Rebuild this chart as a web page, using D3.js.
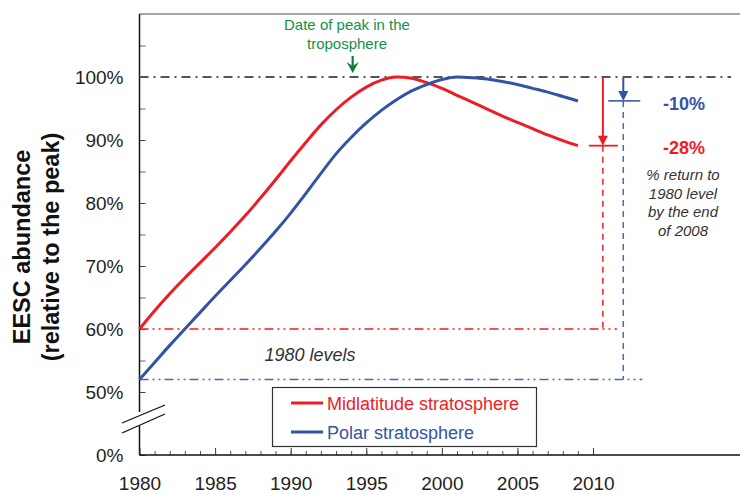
<!DOCTYPE html>
<html><head><meta charset="utf-8">
<script src="https://cdn.jsdelivr.net/npm/d3@7"></script>
<style>body{margin:0;background:#fff}svg{display:block}text{font-family:"Liberation Sans",Arial,sans-serif}</style>
</head><body><svg id="c" width="740" height="495"></svg>
<script>
const years = [1980,1981,1982,1983,1984,1985,1986,1987,1988,1989,1990,1991,1992,1993,1994,1995,1996,1997,1998,1999,2000,2001,2002,2003,2004,2005,2006,2007,2008,2009];
const midlatitude = [60.0,62.9,65.6,68.1,70.5,72.9,75.4,78.0,80.8,83.7,86.7,89.6,92.4,94.8,96.8,98.4,99.5,100.0,99.8,99.1,98.2,97.1,96.0,94.9,93.8,92.8,91.8,90.8,89.9,89.1];
const polar = [52.0,54.7,57.4,60.0,62.6,65.2,67.7,70.2,72.8,75.5,78.4,81.5,84.7,87.8,90.4,92.7,94.7,96.4,97.8,98.8,99.6,100.0,99.9,99.7,99.3,98.8,98.2,97.6,96.9,96.2];
const xTickYears = [1980,1985,1990,1995,2000,2005,2010];
const yTickValues = [40,50,60,70,80,90,100];
const yTickLabels = ["0%","50%","60%","70%","80%","90%","100%"];
const seriesNames = ["Midlatitude stratosphere","Polar stratosphere"];
const seriesColors = ["#ee1d25","#3453a5"];
const changeLabels = ["-28%","-10%"];
const changeYears = [2010.65, 2012.0];
const tropoPeakYear = 1994.1;

const svg = d3.select("#c");
const x = d3.scaleLinear().domain([1980, 2019.72]).range([139.5, 740]);
const y = d3.scaleLinear().domain([40, 110]).range([455, 14]);

// top frame line
svg.append("line").attr("x1", x(1980)).attr("x2", 740).attr("y1", y(110)).attr("y2", y(110))
  .attr("stroke", "#a6a6a6").attr("stroke-width", 2);

// y axis ticks
const yAxis = d3.axisLeft(y).tickValues(yTickValues).tickSizeInner(-6).tickSizeOuter(0).tickPadding(16)
  .tickFormat((d,i) => yTickLabels[i]);
const gy = svg.append("g").attr("transform", `translate(${x(1980)},0)`).call(yAxis);
gy.select(".domain").remove();
gy.selectAll(".tick line").attr("stroke", "#444");
gy.selectAll(".tick text").attr("font-size", 19).attr("fill", "#231f20").attr("dy", "0.36em");
const yMinor = d3.axisLeft(y).tickValues(d3.range(55, 110, 10)).tickSizeInner(-6).tickSizeOuter(0).tickFormat("");
const gym = svg.append("g").attr("transform", `translate(${x(1980)},0)`).call(yMinor);
gym.select(".domain").remove();
gym.selectAll(".tick line").attr("stroke", "#666");

// left axis line with break
svg.append("line").attr("x1", x(1980)).attr("x2", x(1980)).attr("y1", y(110)).attr("y2", 412).attr("stroke", "#111").attr("stroke-width", 1.5);
svg.append("line").attr("x1", x(1980)).attr("x2", x(1980)).attr("y1", 426).attr("y2", 455).attr("stroke", "#111").attr("stroke-width", 1.5);
[[122,423,165,405],[122,433,165,414]].forEach(b => {
  svg.append("line").attr("x1", b[0]).attr("y1", b[1]).attr("x2", b[2]).attr("y2", b[3]).attr("stroke", "#111").attr("stroke-width", 1.3);
});

// x axis
const xAxis = d3.axisBottom(x).tickValues(xTickYears).tickSizeInner(-7).tickSizeOuter(0).tickPadding(22).tickFormat(d3.format("d"));
const gx = svg.append("g").attr("transform", `translate(0,${y(40)})`).call(xAxis);
gx.select(".domain").remove();
gx.selectAll(".tick line").attr("stroke", "#333");
gx.selectAll(".tick text").attr("font-size", 19).attr("fill", "#231f20");
const xMinor = d3.axisBottom(x).tickValues(d3.range(1981, 2010, 1)).tickSizeInner(-4).tickSizeOuter(0).tickFormat("");
const gxm = svg.append("g").attr("transform", `translate(0,${y(40)})`).call(xMinor);
gxm.select(".domain").remove();
gxm.selectAll(".tick line").attr("stroke", "#555");
svg.append("line").attr("x1", x(1980)).attr("x2", 740).attr("y1", y(40)).attr("y2", y(40)).attr("stroke", "#111").attr("stroke-width", 1.5);

// reference lines
svg.append("line").attr("x1", x(1980)).attr("x2", 731).attr("y1", y(100)).attr("y2", y(100))
  .attr("stroke", "#555").attr("stroke-width", 2).attr("stroke-dasharray", "9,5,2,5");
const lastM = midlatitude[midlatitude.length-1], lastP = polar[polar.length-1];
const xr = x(changeYears[0]), xb = x(changeYears[1]);
svg.append("line").attr("x1", x(1980)).attr("x2", xr + 14).attr("y1", y(midlatitude[0])).attr("y2", y(midlatitude[0]))
  .attr("stroke", seriesColors[0]).attr("stroke-width", 1.5).attr("stroke-dasharray", "9,4,2,4,2,4");
svg.append("line").attr("x1", x(1980)).attr("x2", xb + 19).attr("y1", y(polar[0])).attr("y2", y(polar[0]))
  .attr("stroke", "#4a68b0").attr("stroke-width", 1.5).attr("stroke-dasharray", "9,4,2,4,2,4");
// vertical dashed
svg.append("line").attr("x1", xr).attr("x2", xr).attr("y1", y(lastM)).attr("y2", y(midlatitude[0]))
  .attr("stroke", seriesColors[0]).attr("stroke-width", 1.5).attr("stroke-dasharray", "6,5");
svg.append("line").attr("x1", xb).attr("x2", xb).attr("y1", y(lastP)).attr("y2", y(polar[0]))
  .attr("stroke", "#4a68b0").attr("stroke-width", 1.5).attr("stroke-dasharray", "6,5");
// arrows
function arrow(xx, y0, y1, col, w) {
  svg.append("line").attr("x1", xx).attr("x2", xx).attr("y1", y0).attr("y2", y1 - 8).attr("stroke", col).attr("stroke-width", w);
  svg.append("path").attr("d", `M${xx-5},${y1-10}L${xx+5},${y1-10}L${xx},${y1}Z`).attr("fill", col);
}
arrow(xr, y(100)+1, y(lastM), seriesColors[0], 2);
arrow(xb, y(100)+1, y(lastP), seriesColors[1], 2);
svg.append("line").attr("x1", xr-14).attr("x2", xr+15).attr("y1", y(lastM)).attr("y2", y(lastM)).attr("stroke", seriesColors[0]).attr("stroke-width", 1.8);
svg.append("line").attr("x1", xb-15).attr("x2", xb+17).attr("y1", y(lastP)).attr("y2", y(lastP)).attr("stroke", "#4a68b0").attr("stroke-width", 1.8);

// curves
const line = d3.line().x((d,i) => x(years[i])).y(d => y(d)).curve(d3.curveMonotoneX);
[midlatitude, polar].forEach((s, k) => {
  svg.append("path").attr("d", line(s)).attr("fill", "none").attr("stroke", seriesColors[k]).attr("stroke-width", 3);
});

// troposphere peak annotation
const green = "#14914a";
const tx = x(tropoPeakYear);
svg.append("text").attr("x", 347).attr("y", 30).attr("text-anchor", "middle").attr("font-size", 15).attr("fill", green).text("Date of peak in the");
svg.append("text").attr("x", 347).attr("y", 49).attr("text-anchor", "middle").attr("font-size", 15).attr("fill", green).text("troposphere");
svg.append("line").attr("x1", tx).attr("x2", tx).attr("y1", 56).attr("y2", 67).attr("stroke", "#0e7d3e").attr("stroke-width", 2.2);
svg.append("path").attr("d", `M${tx-6},${62}L${tx},${66}L${tx+6},${62}L${tx},${73}Z`).attr("fill", "#0e7d3e");

// change labels
svg.append("text").attr("x", 684).attr("y", 110).attr("text-anchor", "middle").attr("font-size", 18).attr("font-weight", "bold").attr("fill", seriesColors[1]).text(changeLabels[1]);
svg.append("text").attr("x", 684).attr("y", 154).attr("text-anchor", "middle").attr("font-size", 18).attr("font-weight", "bold").attr("fill", seriesColors[0]).text(changeLabels[0]);
["% return to","1980 level","by the end","of 2008"].forEach((t, i) => {
  svg.append("text").attr("x", 683).attr("y", 180 + i*18.7).attr("text-anchor", "middle").attr("font-size", 15)
    .attr("font-style", "italic").attr("fill", "#333").text(t);
});
svg.append("text").attr("x", 310).attr("y", 361).attr("text-anchor", "middle").attr("font-size", 18)
  .attr("font-style", "italic").attr("fill", "#333").text("1980 levels");

// legend
svg.append("rect").attr("x", 272.5).attr("y", 387.5).attr("width", 264).attr("height", 59).attr("fill", "#fff").attr("stroke", "#333").attr("stroke-width", 1.2);
seriesNames.forEach((n, i) => {
  const ly = 403 + i*29;
  svg.append("line").attr("x1", 291).attr("x2", 323).attr("y1", ly).attr("y2", ly).attr("stroke", seriesColors[i]).attr("stroke-width", 3);
  svg.append("text").attr("x", 327).attr("y", ly + 6.5).attr("font-size", 18).attr("fill", seriesColors[i]).text(n);
});

// y title
const gt = svg.append("g").attr("transform", "translate(0,247) rotate(-90)");
gt.append("text").attr("x", 0).attr("y", 30).attr("text-anchor", "middle").attr("font-size", 23.5).attr("font-weight", "bold").attr("fill", "#111").text("EESC abundance");
gt.append("text").attr("x", 0).attr("y", 59).attr("text-anchor", "middle").attr("font-size", 23.5).attr("font-weight", "bold").attr("fill", "#111").text("(relative to the peak)");
</script></body></html>
